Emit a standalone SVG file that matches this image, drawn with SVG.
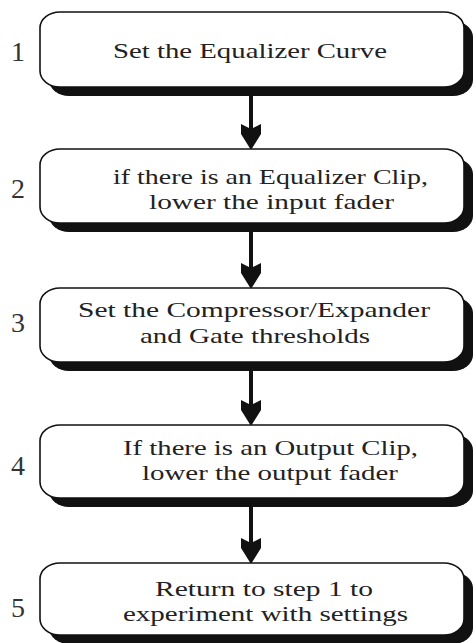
<svg xmlns="http://www.w3.org/2000/svg" width="476" height="643" viewBox="0 0 476 643">
<defs>
<style>
.shadow{fill:#111;}
.box{fill:#fff;stroke:#111;stroke-width:1.6;}
.t{font-family:"Liberation Serif","DejaVu Serif",serif;font-size:22px;fill:#222;}
.n{font-family:"Liberation Serif","DejaVu Serif",serif;font-size:28px;fill:#333;text-anchor:middle;}
.line{stroke:#111;stroke-width:4;fill:none;}
.head{fill:#111;}
</style>
</defs>
<rect width="476" height="643" fill="#fff"/>
<g id="connectors">
<line class="line" x1="251" y1="95" x2="251" y2="130"/>
<polygon class="head" points="241,124 251,129 261,124 261,134 251,150 241,134"/>
<line class="line" x1="251" y1="231" x2="251" y2="269"/>
<polygon class="head" points="241,263 251,268 261,263 261,273 251,289 241,273"/>
<line class="line" x1="251" y1="370" x2="251" y2="406"/>
<polygon class="head" points="241,400 251,405 261,400 261,410 251,426 241,410"/>
<line class="line" x1="251" y1="506" x2="251" y2="544"/>
<polygon class="head" points="241,538 251,543 261,538 261,548 251,564 241,548"/>
</g>
<g id="node1">
<rect class="shadow" x="49" y="21" width="424" height="75" rx="20" ry="16"/>
<rect class="box" x="40" y="12" width="424" height="75" rx="20" ry="16"/>
<text class="n" x="18" y="61">1</text>
<text class="t" x="113" y="58" textLength="274" lengthAdjust="spacingAndGlyphs">Set the Equalizer Curve</text>
</g>
<g id="node2">
<rect class="shadow" x="49" y="158" width="424" height="74" rx="20" ry="16"/>
<rect class="box" x="40" y="149" width="424" height="74" rx="20" ry="16"/>
<text class="n" x="18" y="198">2</text>
<text class="t" x="113" y="184" textLength="315" lengthAdjust="spacingAndGlyphs">if there is an  Equalizer Clip,</text>
<text class="t" x="149" y="209" textLength="245" lengthAdjust="spacingAndGlyphs">lower the input fader</text>
</g>
<g id="node3">
<rect class="shadow" x="49" y="297" width="424" height="74" rx="20" ry="16"/>
<rect class="box" x="40" y="288" width="424" height="74" rx="20" ry="16"/>
<text class="n" x="18" y="332">3</text>
<text class="t" x="78" y="317" textLength="352" lengthAdjust="spacingAndGlyphs">Set the Compressor/Expander</text>
<text class="t" x="140" y="343" textLength="230" lengthAdjust="spacingAndGlyphs">and Gate thresholds</text>
</g>
<g id="node4">
<rect class="shadow" x="49" y="434" width="424" height="73" rx="20" ry="16"/>
<rect class="box" x="40" y="425" width="424" height="73" rx="20" ry="16"/>
<text class="n" x="18" y="475">4</text>
<text class="t" x="123" y="455" textLength="295" lengthAdjust="spacingAndGlyphs">If there is an Output Clip,</text>
<text class="t" x="142" y="480" textLength="256" lengthAdjust="spacingAndGlyphs">lower the output fader</text>
</g>
<g id="node5">
<rect class="shadow" x="49" y="572" width="424" height="72" rx="20" ry="16"/>
<rect class="box" x="40" y="563" width="424" height="72" rx="20" ry="16"/>
<text class="n" x="18" y="617">5</text>
<text class="t" x="155" y="596" textLength="218" lengthAdjust="spacingAndGlyphs">Return to step 1 to</text>
<text class="t" x="123" y="621" textLength="285" lengthAdjust="spacingAndGlyphs">experiment with settings</text>
</g>
</svg>
